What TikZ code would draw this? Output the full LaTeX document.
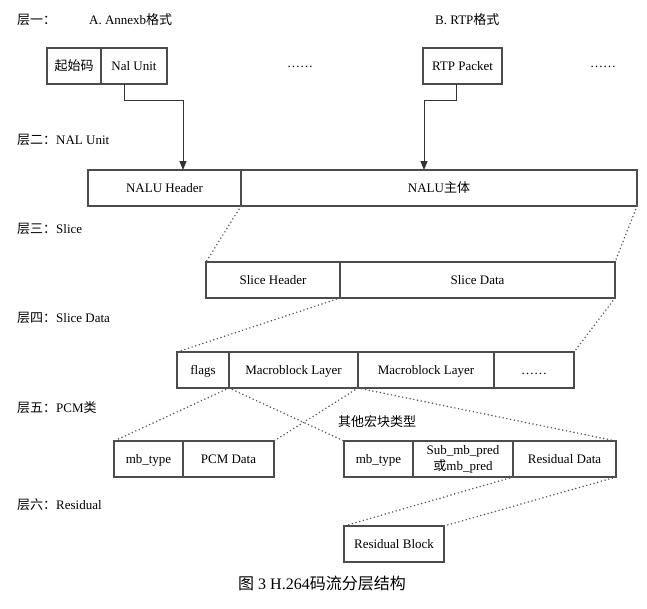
\documentclass[tikz,border=0pt]{standalone}
\usepackage{fontspec}
\setmainfont{Liberation Serif}
\newfontfamily\cjk{Noto Sans CJK SC}
\usetikzlibrary{positioning,arrows.meta}

\begin{document}
\begin{tikzpicture}[
        x=1pt, y=-1pt,
        every node/.style={font=\fontsize{13}{15}\selectfont},
        box/.style={draw=black!70, line width=1.1pt, rectangle, minimum width=#1, minimum height=36pt, inner sep=0pt, outer sep=0pt},
        cell/.style={box=#1, text height=11pt, text depth=2pt},
        layer/.style={anchor=west, inner sep=0pt},
        link/.style={draw=black!65, line width=1.7pt, line cap=round, dash pattern=on 0pt off 3.8pt},
        arr/.style={draw=black!80, line width=1pt, -{Triangle[width=7pt,length=9pt]}}
    ]
    \useasboundingbox (0,0) rectangle (647,608);

    % layer one
    \node[layer] (l1) at (17,20) {\cjk 层一：};
    \node[layer] (fmta) at (89,20) {A. Annexb{\cjk 格式}};
    \node[layer] (fmtb) at (435,20) {B. RTP{\cjk 格式}};
    \node[cell=54pt, anchor=north west] (startcode) at (47,48) {\cjk 起始码};
    \node[cell=66pt, right=0pt of startcode] (nalunit) {Nal Unit};
    \node (moreA) at (300,67) {……};
    \node[cell=79pt, anchor=north west] (rtp) at (423,48) {RTP Packet};
    \node (moreB) at (603,67) {……};

    % layer two
    \node[layer] (l2) at (17,140) {{\cjk 层二：}NAL Unit};
    \node[cell=153pt, anchor=north west] (naluhdr) at (88,170) {NALU Header};
    \node[cell=396pt, right=0pt of naluhdr] (nalubody) {NALU{\cjk 主体}};

    % layer three
    \node[layer] (l3) at (17,229) {{\cjk 层三：}Slice};
    \node[cell=134pt, anchor=north west] (slchdr) at (206,262) {Slice Header};
    \node[cell=275pt, right=0pt of slchdr] (slcdata) {Slice Data};

    % layer four
    \node[layer] (l4) at (17,318) {{\cjk 层四：}Slice Data};
    \node[cell=52pt, anchor=north west] (flags) at (177,352) {flags};
    \node[cell=129pt, right=0pt of flags] (mb1) {Macroblock Layer};
    \node[cell=136pt, right=0pt of mb1] (mb2) {Macroblock Layer};
    \node[cell=80pt, right=0pt of mb2] (mbmore) {……};

    % layer five
    \node[layer] (l5) at (17,408) {{\cjk 层五：}PCM{\cjk 类}};
    \node (other) at (377,422) {\cjk 其他宏块类型};
    \node[cell=69pt, anchor=north west] (mbtype) at (114,441) {mb\_type};
    \node[cell=91pt, right=0pt of mbtype] (pcmdata) {PCM Data};
    \node[cell=69pt, anchor=north west] (mbtype2) at (344,441) {mb\_type};
    \node[box=100pt, right=0pt of mbtype2, align=center, font=\fontsize{13}{16}\selectfont] (pred) {Sub\_mb\_pred\\{\cjk 或}mb\_pred};
    \node[cell=103pt, right=0pt of pred] (resid) {Residual Data};

    % layer six
    \node[layer] (l6) at (17,505) {{\cjk 层六：}Residual};
    \node[cell=100pt, anchor=north west] (rblock) at (344,526) {Residual Block};

    \node (caption) at (322,583) {\fontsize{16}{18}\selectfont{\cjk 图} 3 H.264{\cjk 码流分层结构}};

    % connectors
    \draw[arr] ([xshift=23pt]startcode.south east) -- ++(0,16) -| ([xshift=95pt]naluhdr.north west);
    \draw[arr] ([xshift=33pt]rtp.south west) -- ++(0,16) -| ([xshift=183pt]nalubody.north west);
    \draw[link] (naluhdr.south east) -- (slchdr.north west);
    \draw[link] (nalubody.south east) -- (slcdata.north east);
    \draw[link] (slchdr.south east) -- (flags.north west);
    \draw[link] (slcdata.south east) -- (mbmore.north east);
    \draw[link] (flags.south east) -- (mbtype.north west);
    \draw[link] (flags.south east) -- (mbtype2.north west);
    \draw[link] (mb1.south east) -- (pcmdata.north east);
    \draw[link] (mb1.south east) -- (resid.north east);
    \draw[link] (pred.south east) -- (rblock.north west);
    \draw[link] (resid.south east) -- (rblock.north east);
\end{tikzpicture}
\end{document}
